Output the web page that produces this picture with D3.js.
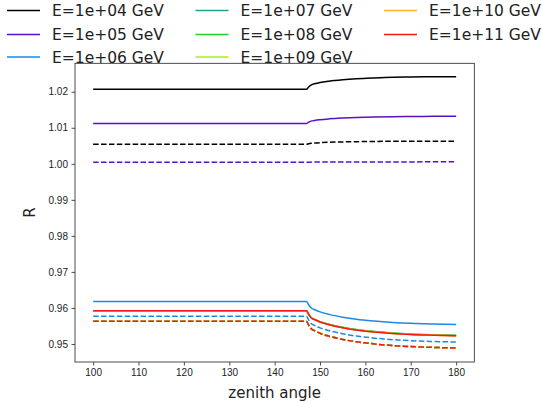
<!DOCTYPE html>
<html>
<head>
<meta charset="utf-8">
<script src="https://cdn.jsdelivr.net/npm/d3@7"></script>
<style>
body { margin: 0; background: #fff; }
svg { display: block; font-family: "DejaVu Sans", sans-serif; }
.tick text { font-size: 10px; fill: #222; }
</style>
</head>
<body>
<script>
var energies = ['1e+04', '1e+05', '1e+06', '1e+07', '1e+08', '1e+09', '1e+10', '1e+11'];
var colors = ['#000000', '#5a10c8', '#1e88e5', '#17a88f', '#1ed21e', '#aaee22', '#fbb227', '#ee1b1b'];

var zenith = [100, 147, 147.5, 148, 149, 150, 152, 155, 158, 162, 166, 170, 175, 180];

// solid curves
var solid_e4  = [1.0207, 1.0207, 1.02133, 1.02182, 1.02228, 1.02256, 1.02294, 1.02333, 1.02361, 1.02385, 1.02403, 1.0241, 1.02417, 1.0242];
var solid_e5  = [1.0112, 1.0112, 1.01156, 1.01184, 1.0121, 1.01226, 1.01248, 1.0127, 1.01286, 1.013, 1.0131, 1.01314, 1.01318, 1.0132];
var solid_e6  = [0.9618, 0.9618, 0.9609, 0.96007, 0.95943, 0.95892, 0.95822, 0.95745, 0.95687, 0.95636, 0.95598, 0.95572, 0.95553, 0.9554];
var solid_e7  = [0.9592, 0.9592, 0.95828, 0.95742, 0.95675, 0.9562, 0.95546, 0.95464, 0.95402, 0.95346, 0.95305, 0.95277, 0.95257, 0.95243];
var solid_e8  = [0.9592, 0.9592, 0.95825, 0.95738, 0.9567, 0.95614, 0.9554, 0.95457, 0.95395, 0.9534, 0.95298, 0.9527, 0.9525, 0.95236];
var solid_e9  = [0.9592, 0.9592, 0.95824, 0.95736, 0.95667, 0.95611, 0.95537, 0.95454, 0.95392, 0.95336, 0.95295, 0.95267, 0.95247, 0.95233];
var solid_e10 = [0.9592, 0.9592, 0.95823, 0.95734, 0.95665, 0.95609, 0.95534, 0.95451, 0.95389, 0.95333, 0.95292, 0.95264, 0.95244, 0.9523];
var solid_e11 = [0.9592, 0.9592, 0.95823, 0.95734, 0.95665, 0.95609, 0.95534, 0.95451, 0.95389, 0.95333, 0.95292, 0.95264, 0.95244, 0.9523];

// dashed curves
var dashed_e4  = [1.0054, 1.0054, 1.00556, 1.00569, 1.0058, 1.00588, 1.00598, 1.00608, 1.00615, 1.00621, 1.00626, 1.00627, 1.00629, 1.0063];
var dashed_e5  = [1.00045, 1.00045, 1.00046, 1.00047, 1.00048, 1.00049, 1.0005, 1.00051, 1.00052, 1.00053, 1.00054, 1.00054, 1.00055, 1.00055];
var dashed_e6  = [0.9577, 0.9577, 0.9567, 0.95577, 0.95505, 0.95448, 0.9537, 0.95284, 0.95219, 0.95162, 0.95119, 0.95091, 0.95069, 0.95055];
var dashed_e7  = [0.9563, 0.9563, 0.95526, 0.9543, 0.95356, 0.95297, 0.95216, 0.95127, 0.9506, 0.95001, 0.94957, 0.94927, 0.94905, 0.9489];
var dashed_e8  = [0.9563, 0.9563, 0.95526, 0.9543, 0.95356, 0.95297, 0.95216, 0.95127, 0.9506, 0.95001, 0.94957, 0.94927, 0.94905, 0.9489];
var dashed_e9  = [0.9563, 0.9563, 0.95526, 0.9543, 0.95356, 0.95297, 0.95216, 0.95127, 0.9506, 0.95001, 0.94957, 0.94927, 0.94905, 0.9489];
var dashed_e10 = [0.9563, 0.9563, 0.95526, 0.9543, 0.95356, 0.95297, 0.95216, 0.95127, 0.9506, 0.95001, 0.94957, 0.94927, 0.94905, 0.9489];
var dashed_e11 = [0.9563, 0.9563, 0.95526, 0.9543, 0.95356, 0.95297, 0.95216, 0.95127, 0.9506, 0.95001, 0.94957, 0.94927, 0.94905, 0.9489];

var solidSeries = [solid_e4, solid_e5, solid_e6, solid_e7, solid_e8, solid_e9, solid_e10, solid_e11];
var dashedSeries = [dashed_e4, dashed_e5, dashed_e6, dashed_e7, dashed_e8, dashed_e9, dashed_e10, dashed_e11];

var xTicks = [100, 110, 120, 130, 140, 150, 160, 170, 180];
var yTicks = [0.95, 0.96, 0.97, 0.98, 0.99, 1.00, 1.01, 1.02];

var svgW = 542, svgH = 402;
var plotL = 75, plotR = 474.3, plotT = 63.3, plotB = 362;

var svg = d3.select('body').append('svg')
	.attr('width', svgW)
	.attr('height', svgH);

var x = d3.scaleLinear().domain([96, 184]).range([plotL, plotR]);
var y = d3.scaleLinear().domain([0.945, 1.0279]).range([plotB, plotT]);

var line = d3.line()
	.x(function(d, i) { return x(zenith[i]); })
	.y(function(d) { return y(d); })
	.curve(d3.curveMonotoneX);

var plot = svg.append('g');

for (var i = 0; i < solidSeries.length; i++) {
	plot.append('path')
	.attr('d', line(solidSeries[i]))
	.attr('fill', 'none')
	.attr('stroke', colors[i])
	.attr('stroke-width', 1.5);
}
for (var i = 0; i < dashedSeries.length; i++) {
	plot.append('path')
	.attr('d', line(dashedSeries[i]))
	.attr('fill', 'none')
	.attr('stroke', colors[i])
	.attr('stroke-width', 1.5)
	.attr('stroke-dasharray', '5.5,2.4');
}

// axes
var xAxis = svg.append('g')
	.attr('transform', 'translate(0,' + plotB + ')')
	.call(d3.axisBottom(x).tickValues(xTicks).tickSize(3.5).tickPadding(3.5).tickSizeOuter(0));
var yAxis = svg.append('g')
	.attr('transform', 'translate(' + plotL + ',0)')
	.call(d3.axisLeft(y).tickValues(yTicks).tickFormat(d3.format('.2f')).tickSize(3.5).tickPadding(3.5).tickSizeOuter(0));
xAxis.select('.domain').remove();
yAxis.select('.domain').remove();
svg.selectAll('.tick line').attr('stroke', '#222').attr('stroke-width', 0.8);

svg.append('rect')
	.attr('x', plotL)
	.attr('y', plotT)
	.attr('width', plotR - plotL)
	.attr('height', plotB - plotT)
	.attr('fill', 'none')
	.attr('stroke', '#222')
	.attr('stroke-width', 0.8);

svg.append('text')
	.attr('x', (plotL + plotR) / 2)
	.attr('y', 398)
	.attr('text-anchor', 'middle')
	.attr('font-size', 15)
	.attr('fill', '#222')
	.text('zenith angle');

svg.append('text')
	.attr('transform', 'translate(35,' + ((plotT + plotB) / 2) + ') rotate(-90)')
	.attr('text-anchor', 'middle')
	.attr('font-size', 15)
	.attr('fill', '#222')
	.text('R');

// legend, three columns
var legendCols = [7, 195.5, 384];
var legendRows = [10.4, 34.6, 57];
for (var i = 0; i < energies.length; i++) {
	var col = Math.floor(i / 3), row = i % 3;
	var g = svg.append('g')
	.attr('transform', 'translate(' + legendCols[col] + ',' + legendRows[row] + ')');
	g.append('line')
	.attr('x1', 0).attr('x2', 33)
	.attr('y1', 0).attr('y2', 0)
	.attr('stroke', colors[i])
	.attr('stroke-width', 1.5);
	g.append('text')
	.attr('x', 45)
	.attr('y', 5.5)
	.attr('font-size', 15.5)
	.attr('fill', '#222')
	.text('E=' + energies[i] + ' GeV');
}
</script>
</body>
</html>
